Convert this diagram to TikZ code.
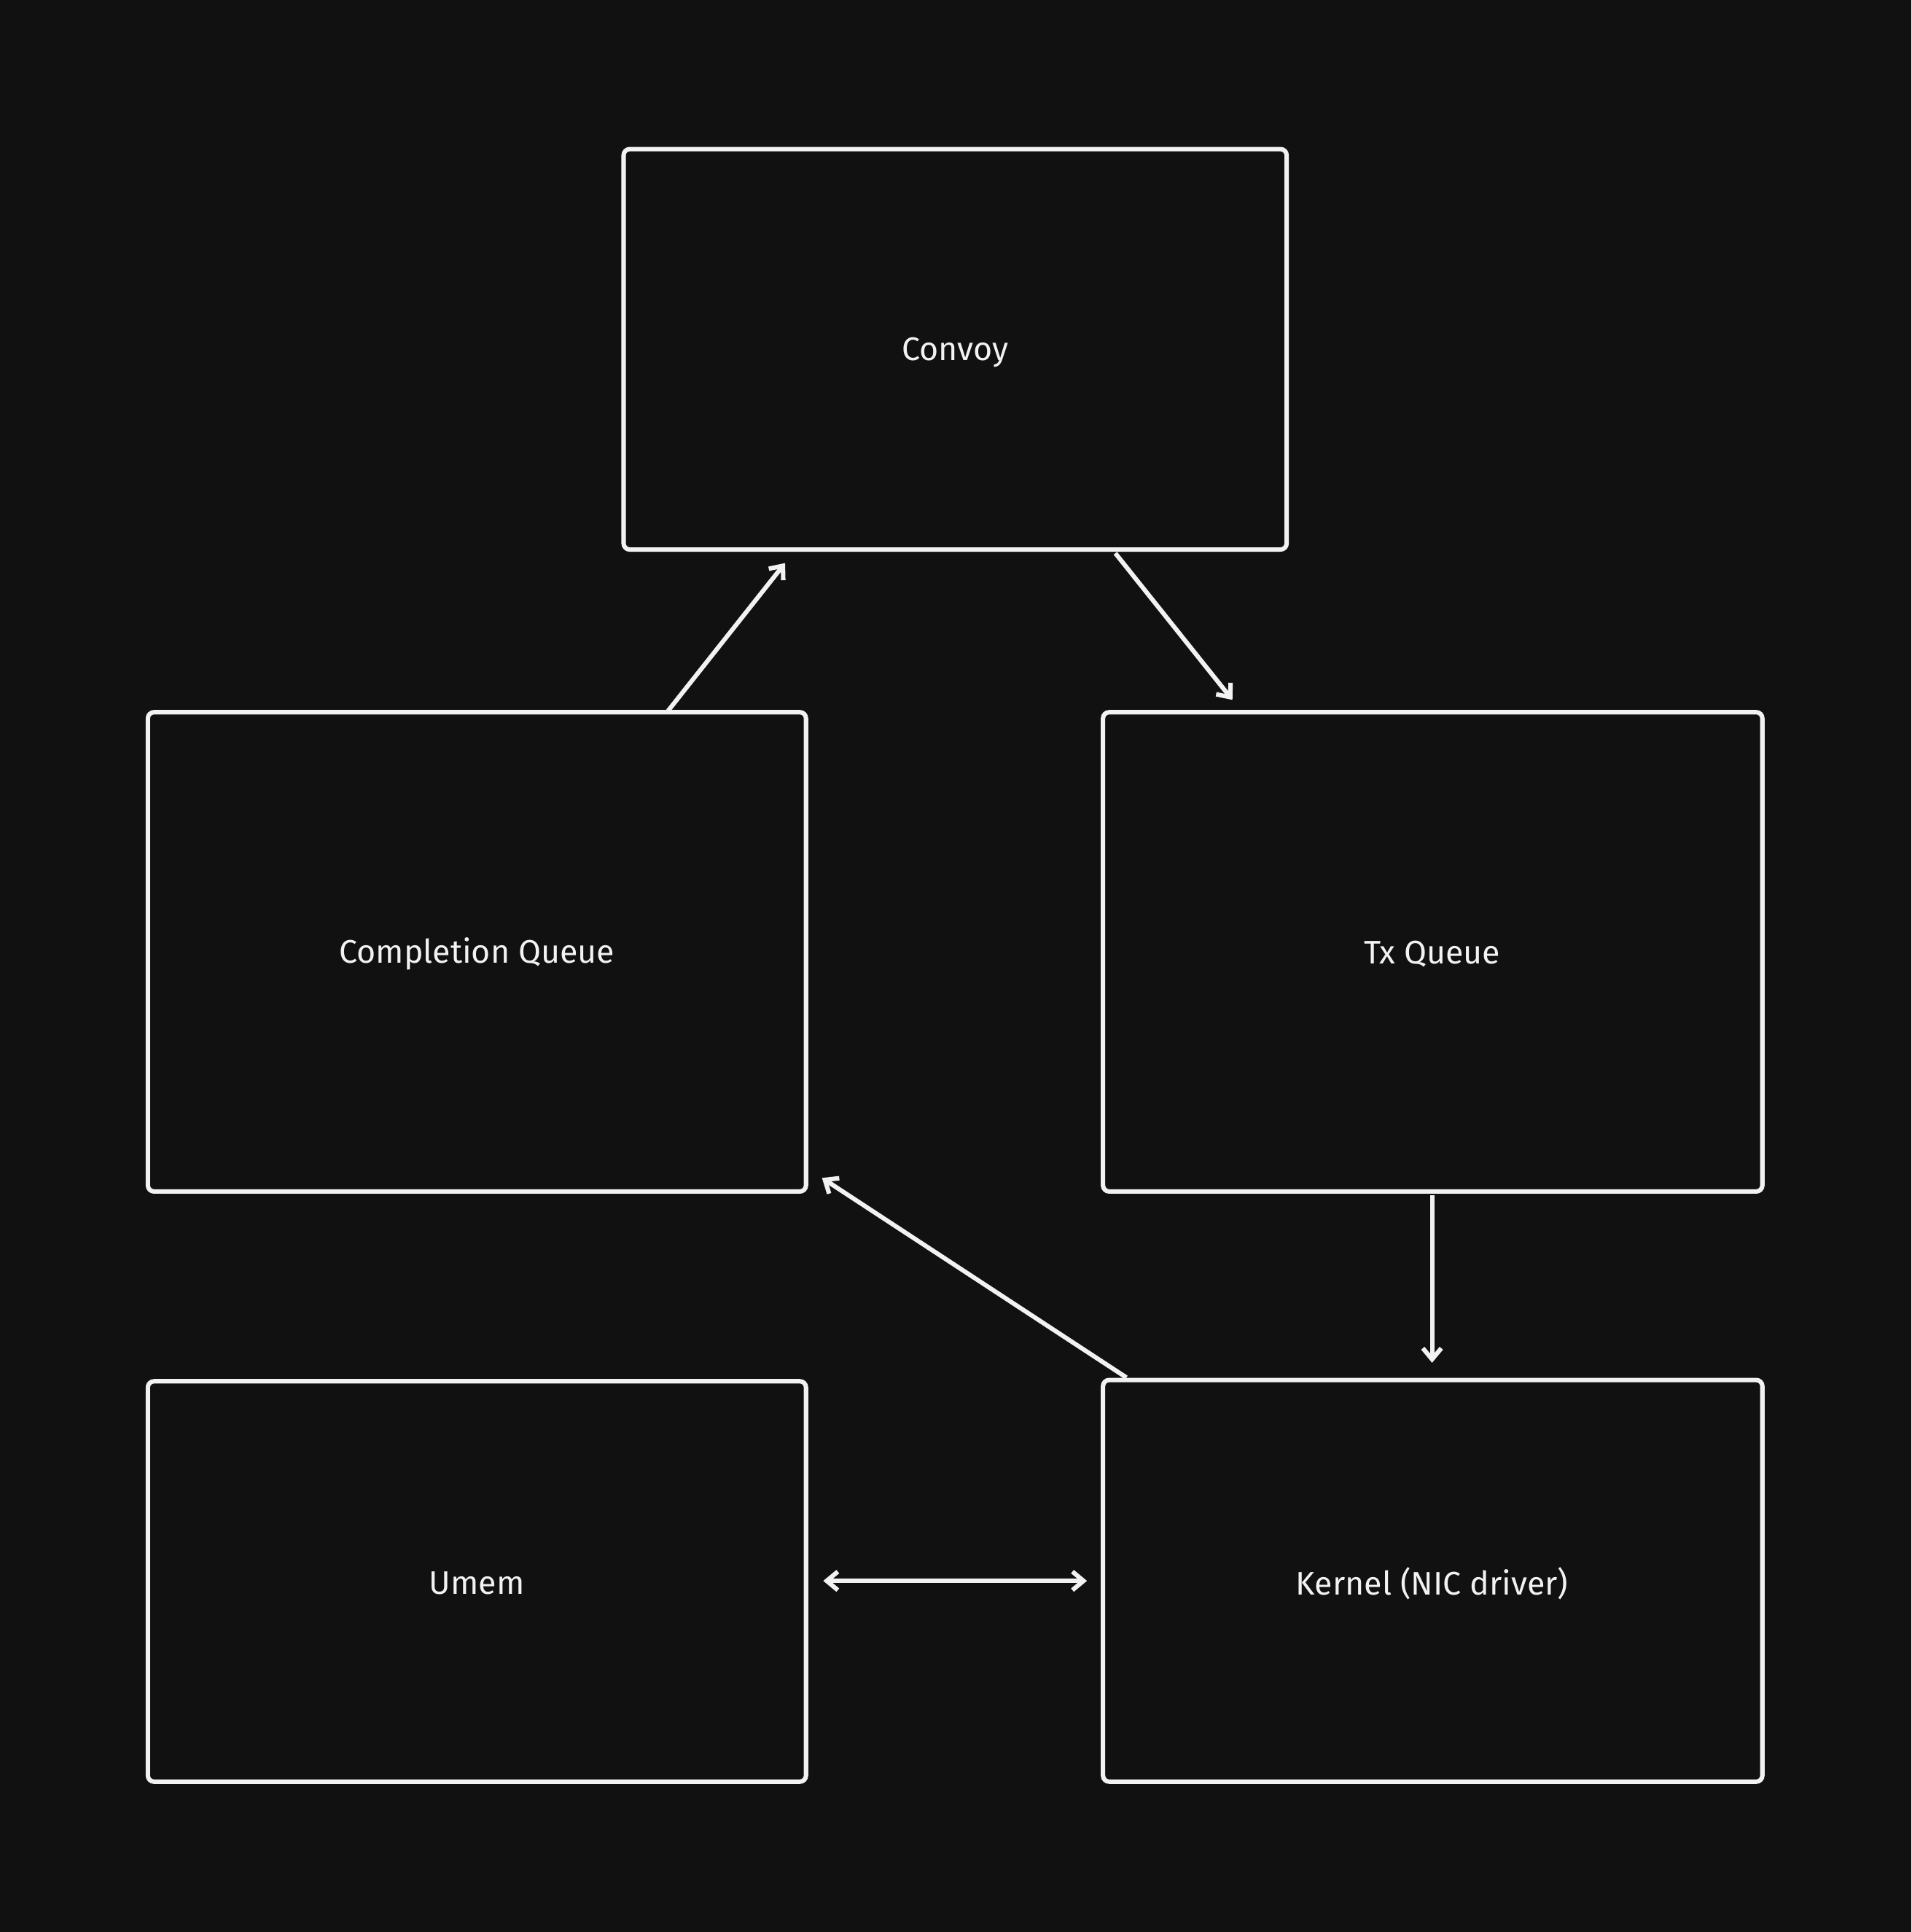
\documentclass[tikz,border=0pt]{standalone}
\usepackage{fontspec}
\setmainfont{Fira Sans}
\usetikzlibrary{arrows.meta}
\definecolor{bg}{HTML}{111111}
\definecolor{fg}{HTML}{F2F2F2}
\begin{document}
\begin{tikzpicture}[x=1pt,y=-1pt,
  box/.style={draw=fg,line width=3.6pt,rounded corners=5pt},
  lbl/.style={text=fg,font=\fontsize{26.5}{31}\selectfont},
  arr/.style={draw=fg,line width=3.6pt,-{Straight Barb[length=9pt,width=15pt,line width=3.6pt]}}]
\fill[bg] (0,0) rectangle (1551,1568);
\useasboundingbox (0,0) rectangle (1551,1568);
\draw[box] (506,121) rectangle (1044,446); \node[lbl] (convoy) at (775,286) {Convoy};
\draw[box] (120,578) rectangle (654,967); \node[lbl] (cq) at (387,774) {Completion Queue};
\draw[box] (895,578) rectangle (1430,967); \node[lbl] (tx) at (1162,774) {Tx Queue};
\draw[box] (120,1121) rectangle (654,1446); \node[lbl] (umem) at (387,1285) {Umem};
\draw[box] (895,1120) rectangle (1430,1446); \node[lbl] (kernel) at (1162,1285) {Kernel (NIC driver)};
\coordinate (a1) at (542,577); \coordinate (a2) at (637,457);
\coordinate (b1) at (905,449); \coordinate (b2) at (1000,568);
\coordinate (c1) at (1162,970); \coordinate (c2) at (1162,1106);
\coordinate (d1) at (914,1118); \coordinate (d2) at (667,956);
\coordinate (e1) at (668,1283); \coordinate (e2) at (882,1283);
\draw[arr] (a1) -- (a2);
\draw[arr] (b1) -- (b2);
\draw[arr] (c1) -- (c2);
\draw[arr] (d1) -- (d2);
\draw[arr,{Straight Barb[length=9pt,width=15pt,line width=3.6pt]}-{Straight Barb[length=9pt,width=15pt,line width=3.6pt]}] (e1) -- (e2);
\end{tikzpicture}
\end{document}
